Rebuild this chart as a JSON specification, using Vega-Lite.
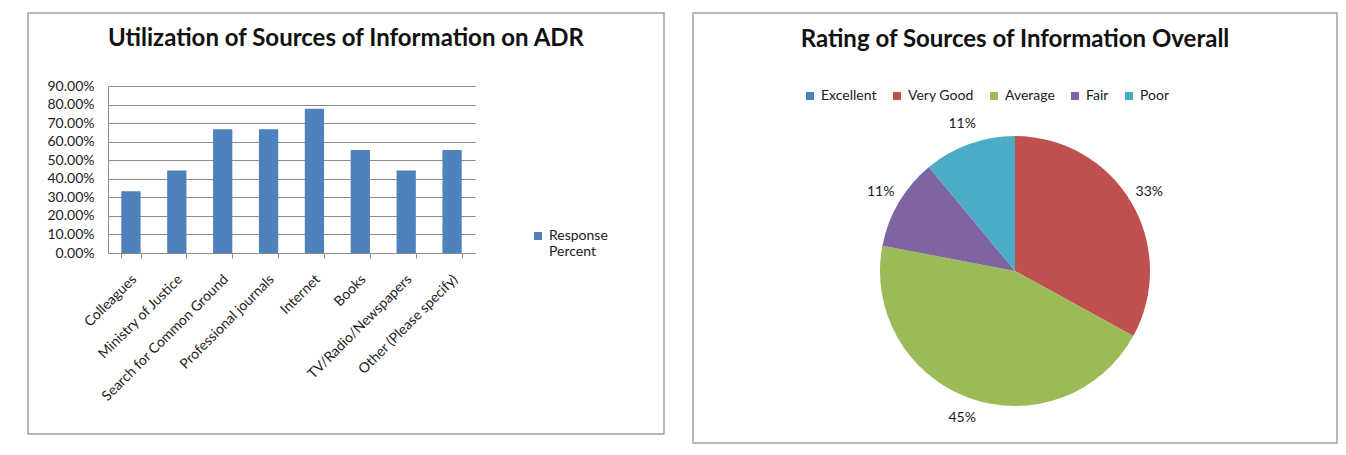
{
  "$schema": "https://vega.github.io/schema/vega-lite/v6.json",
  "background": "white",
  "padding": {"left": 27, "top": 12, "right": 0, "bottom": 0},
  "spacing": 27,
  "resolve": {"scale": {"color": "independent"}, "legend": {"color": "independent"}},
  "config": {
    "font": "Lato",
    "view": {"stroke": "#A0A0A0", "strokeWidth": 1.5},
    "title": {"font": "Lato", "fontSize": 24, "fontWeight": "bold", "color": "#111111", "anchor": "middle", "offset": 0},
    "axis": {"labelFont": "Lato", "labelFontSize": 14, "labelColor": "#1a1a1a"},
    "legend": {"labelFont": "Lato", "labelFontSize": 14, "labelColor": "#1a1a1a"}
  },
  "hconcat": [
    {
      "width": 636,
      "height": 421,
      "title": {"text": "Utilization of Sources of Information on ADR", "dy": 42},
      "data": {
        "values": [
          {"source": "Colleagues", "percent": 0.3333, "series": "Response Percent"},
          {"source": "Ministry of Justice", "percent": 0.4444, "series": "Response Percent"},
          {"source": "Search for Common Ground", "percent": 0.6667, "series": "Response Percent"},
          {"source": "Professional journals", "percent": 0.6667, "series": "Response Percent"},
          {"source": "Internet", "percent": 0.7778, "series": "Response Percent"},
          {"source": "Books", "percent": 0.5556, "series": "Response Percent"},
          {"source": "TV/Radio/Newspapers", "percent": 0.4444, "series": "Response Percent"},
          {"source": "Other (Please specify)", "percent": 0.5556, "series": "Response Percent"}
        ]
      },
      "mark": {"type": "bar"},
      "encoding": {
        "x": {
          "field": "source",
          "type": "nominal",
          "sort": null,
          "scale": {"range": [80, 447], "paddingInner": 0.58, "paddingOuter": 0.29},
          "axis": {
            "title": null,
            "orient": "bottom",
            "offset": -181,
            "tickBand": "extent",
            "tickSize": 5,
            "tickColor": "#8C8C8C",
            "domainColor": "#8C8C8C",
            "labelAngle": -45,
            "labelPadding": 14,
            "labelOffset": -2,
            "grid": false
          }
        },
        "y": {
          "field": "percent",
          "type": "quantitative",
          "scale": {"domain": [0, 0.9], "range": [240, 73]},
          "axis": {
            "title": null,
            "orient": "left",
            "offset": -80,
            "values": [0, 0.1, 0.2, 0.3, 0.4, 0.5, 0.6, 0.7, 0.8, 0.9],
            "format": ".2%",
            "ticks": false,
            "labelPadding": 14,
            "grid": true,
            "gridColor": "#8C8C8C",
            "domainColor": "#8C8C8C"
          }
        },
        "color": {
          "field": "series",
          "type": "nominal",
          "scale": {"domain": ["Response Percent"], "range": ["#4F81BD"]},
          "legend": {
            "title": null,
            "orient": "none",
            "legendX": 503,
            "legendY": 216,
            "padding": 0,
            "symbolType": "square",
            "symbolSize": 64,
            "symbolStrokeWidth": 0,
            "labelExpr": "['Response', 'Percent']"
          }
        }
      }
    },
    {
      "width": 644,
      "height": 430,
      "view": {"stroke": "#A0A0A0", "strokeWidth": 1.5},
      "title": {"text": "Rating of Sources of Information Overall", "dy": 43},
      "data": {
        "values": [
          {"rating": "Excellent", "share": 0, "order": 1},
          {"rating": "Very Good", "share": 0.33, "order": 2},
          {"rating": "Average", "share": 0.45, "order": 3},
          {"rating": "Fair", "share": 0.11, "order": 4},
          {"rating": "Poor", "share": 0.11, "order": 5}
        ]
      },
      "encoding": {
        "theta": {"field": "share", "type": "quantitative", "stack": true},
        "order": {"field": "order", "type": "quantitative"},
        "color": {
          "field": "rating",
          "type": "nominal",
          "scale": {
            "domain": ["Excellent", "Very Good", "Average", "Fair", "Poor"],
            "range": ["#4F81BD", "#C0504D", "#9BBB59", "#8064A2", "#4BACC6"]
          },
          "legend": {
            "title": null,
            "orient": "none",
            "direction": "horizontal",
            "legendX": 110,
            "legendY": 76,
            "padding": 0,
            "columnPadding": 13,
            "symbolType": "square",
            "symbolSize": 64,
            "symbolStrokeWidth": 0
          }
        }
      },
      "layer": [
        {"mark": {"type": "arc", "outerRadius": 135, "yOffset": 43}},
        {
          "transform": [{"filter": "datum.share > 0"}],
          "mark": {"type": "text", "radius": 156, "yOffset": 43, "fontSize": 14, "font": "Lato"},
          "encoding": {
            "text": {"field": "share", "type": "quantitative", "format": ".0%"},
            "color": {"value": "#1a1a1a"}
          }
        }
      ]
    }
  ]
}
